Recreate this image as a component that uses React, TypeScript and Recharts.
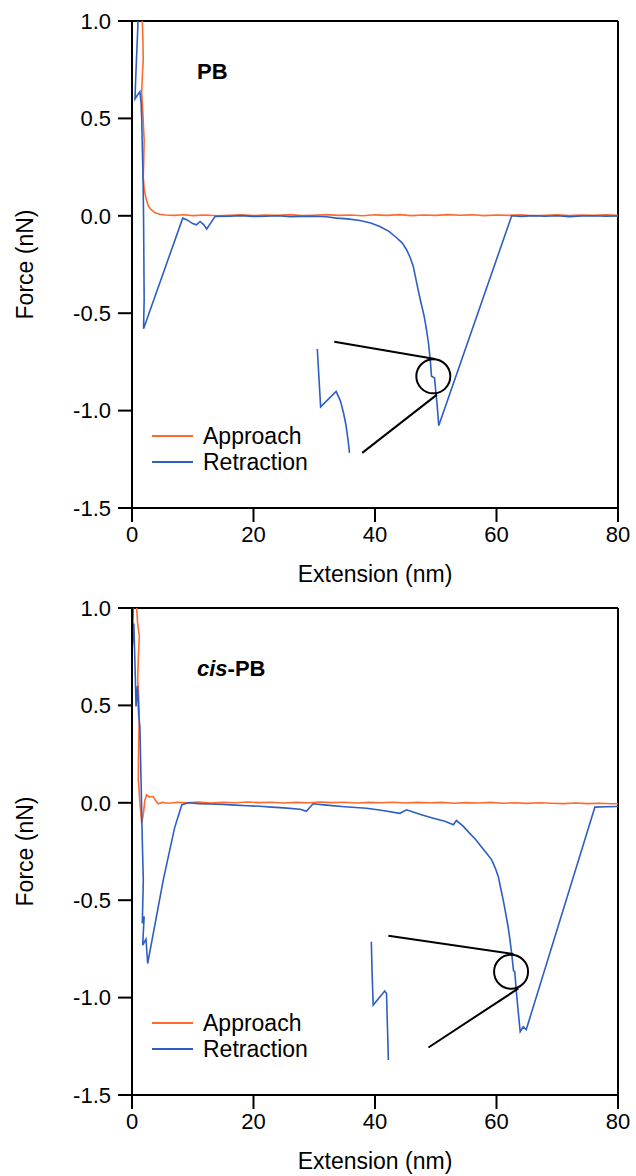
import React from "react";
import { LineChart, Line, XAxis, YAxis, ReferenceLine, ReferenceDot } from "recharts";

const FONT = '"Liberation Sans", Arial, sans-serif';
const ORANGE = "#FF6A2E";
const BLUE = "#2D5EC4";

const xTicks = [0, 20, 40, 60, 80];
const yTicks = [-1.5, -1.0, -0.5, 0.0, 0.5, 1.0];
const legendItems = [
  { name: "Approach", color: ORANGE },
  { name: "Retraction", color: BLUE },
];

// PB panel (x in nm, y in nN)
const pbApproach: [number, number][] = [
  [1.7, 1.0], [1.8, 0.9], [1.85, 0.8], [1.7, 0.72], [1.6, 0.63], [1.75, 0.55], [1.9, 0.45],
  [2.0, 0.39], [1.95, 0.3], [1.85, 0.2], [2.0, 0.14], [2.3, 0.09], [2.7, 0.05], [3.2, 0.03],
  [3.8, 0.015], [4.6, 0.008], [5.5, 0.004], [7, 0.002], [8.5, 0.005], [10, 0.001], [12, 0.004],
  [14, 0.0], [16, 0.003], [18, 0.005], [20, 0.001], [22, 0.004], [24, 0.002], [26, 0.006],
  [28, 0.001], [30, 0.003], [32, 0.006], [34, 0.002], [36, 0.004], [38, 0.0], [40, 0.005],
  [42, 0.002], [44, 0.006], [46, 0.001], [48, 0.004], [50, 0.002], [52, 0.006], [54, 0.003],
  [56, 0.005], [58, 0.001], [60, 0.004], [62, 0.002], [64, 0.005], [66, 0.0], [68, 0.003],
  [70, 0.005], [72, 0.001], [74, 0.004], [76, 0.002], [78, 0.005], [80, 0.002],
];

const pbRetraction: [number, number][] = [
  [1.0, 1.0], [0.8, 0.85], [0.6, 0.7], [0.5, 0.6], [0.9, 0.62], [1.3, 0.637], [1.5, 0.58],
  [1.6, 0.5], [1.7, 0.35], [1.8, 0.22], [1.85, 0.12], [1.9, 0.0], [1.95, -0.2], [2.0, -0.43],
  [1.9, -0.58], [8.35, -0.012], [9.0, -0.02], [10.0, -0.04], [10.6, -0.046], [11.2, -0.029],
  [11.8, -0.045], [12.3, -0.068], [13.0, -0.035], [13.7, -0.003], [16, -0.002], [18, 0.001],
  [20, -0.003], [22, -0.002], [24, 0.0], [26, -0.004], [28, -0.003], [30, -0.002], [32, -0.005],
  [33.7, -0.012], [35.5, -0.016], [37.5, -0.024], [39.3, -0.037], [40.8, -0.055], [42.3, -0.08],
  [43.6, -0.114], [44.5, -0.14], [45.2, -0.174], [45.8, -0.215], [46.3, -0.26], [46.7, -0.32],
  [47.1, -0.38], [47.6, -0.45], [48.1, -0.516], [48.5, -0.59], [48.8, -0.653], [49.1, -0.74],
  [49.3, -0.824], [49.8, -0.833], [50.0, -0.9], [50.2, -0.96], [50.5, -1.077], [62.5, 0.0],
  [64, -0.003], [66, 0.001], [68, -0.002], [70, 0.0], [72, -0.004], [74, -0.001], [76, 0.0],
  [78, -0.002], [80, -0.001],
];

const pbInset: [number, number][] = [
  [30.5, -0.684], [31.05, -0.981], [33.6, -0.901], [34.3, -0.95], [34.8, -1.01], [35.2, -1.07],
  [35.4, -1.114], [35.6, -1.16], [35.8, -1.217],
];
const pbPointerA: [number, number][] = [[33.3, -0.646], [49.9, -0.735]];
const pbPointerB: [number, number][] = [[37.9, -1.217], [50.2, -0.918]];
const pbCircle: [number, number] = [49.6, -0.824];

// cis-PB panel
const cisApproach: [number, number][] = [
  [0.77, 1.0], [0.9, 0.93], [1.2, 0.855], [1.05, 0.75], [0.93, 0.632], [1.1, 0.55], [1.2, 0.46],
  [1.1, 0.3], [1.04, 0.118], [1.3, 0.0], [1.6, -0.104], [1.9, -0.05], [2.1, 0.01], [2.4, 0.041],
  [2.9, 0.03], [3.5, 0.032], [3.9, 0.01], [4.3, -0.005], [5, 0.002], [6, -0.002], [7.5, 0.003],
  [9, 0.0], [11, 0.004], [13, -0.001], [15, 0.003], [17, 0.0], [19, 0.004], [21, 0.001],
  [23, 0.003], [25, -0.001], [27, 0.002], [29, 0.0], [31, 0.004], [33, 0.001], [35, 0.003],
  [37, -0.001], [39, 0.002], [41, 0.0], [43, 0.003], [45, -0.001], [47, 0.002], [49, 0.0],
  [51, 0.002], [53, -0.002], [55, 0.001], [57, -0.001], [59, 0.002], [61, -0.002], [63, 0.0],
  [65, -0.003], [67, 0.0], [69, -0.002], [71, -0.004], [73, -0.001], [75, -0.004], [77, -0.002],
  [79, -0.005], [80, -0.004],
];

const cisRetraction: [number, number][] = [
  [0.2, 1.0], [0.05, 0.8], [0.3, 0.92], [0.5, 0.7], [0.66, 0.495], [0.9, 0.6], [1.1, 0.45],
  [1.3, 0.39], [1.5, 0.1], [1.7, -0.2], [1.86, -0.396], [1.7, -0.618], [2.0, -0.584],
  [1.76, -0.73], [2.3, -0.7], [2.58, -0.825], [5.15, -0.396], [7.0, -0.13], [8.2, -0.01],
  [9.3, 0.0], [11, -0.004], [13, -0.006], [15, -0.008], [17, -0.012], [19, -0.015],
  [21, -0.018], [23, -0.022], [25, -0.026], [27.7, -0.033], [28.7, -0.044], [29.8, -0.005],
  [32, -0.012], [35, -0.02], [38.6, -0.028], [41, -0.038], [44.1, -0.054], [45.2, -0.036],
  [47.5, -0.06], [49.6, -0.079], [51.5, -0.095], [52.9, -0.113], [53.4, -0.091], [54.5, -0.12],
  [55.6, -0.157], [56.6, -0.19], [57.5, -0.225], [58.4, -0.26], [59.2, -0.293], [59.8, -0.335],
  [60.3, -0.379], [60.7, -0.44], [61.1, -0.498], [61.5, -0.565], [61.9, -0.635], [62.2, -0.7],
  [62.5, -0.773], [62.8, -0.862], [63.0, -0.867], [63.3, -0.979], [63.6, -1.08], [63.9, -1.175],
  [64.4, -1.15], [64.9, -1.164], [76.2, -0.022], [78, -0.02], [80, -0.019],
];

const cisInset: [number, number][] = [
  [39.4, -0.713], [39.5, -0.85], [39.7, -1.038], [41.6, -0.966], [41.9, -0.979], [42.0, -1.1],
  [42.1, -1.2], [42.2, -1.32],
];
const cisPointerA: [number, number][] = [[42.2, -0.682], [62.8, -0.776]];
const cisPointerB: [number, number][] = [[48.8, -1.256], [63.6, -0.953]];
const cisCircle: [number, number] = [62.4, -0.867];

const toPts = (arr: [number, number][]) => arr.map(([x, y]) => ({ x, y }));

function LegendBox() {
  return (
    <div style={{ position: "absolute", left: 152, top: 423, fontFamily: FONT, fontSize: 23, color: "#000" }}>
      {legendItems.map((it) => (
        <div key={it.name} style={{ display: "flex", alignItems: "center", height: 26 }}>
          <svg width={41} height={4} style={{ display: "block" }}>
            <line x1={0} x2={41} y1={2} y2={2} stroke={it.color} strokeWidth={2} />
          </svg>
          <span style={{ marginLeft: 10, lineHeight: "26px" }}>{it.name}</span>
        </div>
      ))}
    </div>
  );
}

interface PanelProps {
  approach: [number, number][];
  retraction: [number, number][];
  inset: [number, number][];
  pointerA: [number, number][];
  pointerB: [number, number][];
  circle: [number, number];
  title: React.ReactNode;
  titleTop: number;
  top: number;
}

function Panel({ approach, retraction, inset, pointerA, pointerB, circle, title, titleTop, top }: PanelProps) {
  const axisStyle = { stroke: "#000", strokeWidth: 2 };
  return (
    <div style={{ position: "absolute", left: 0, top, width: 636, height: 588 }}>
      <LineChart width={636} height={588} margin={{ top: 21, right: 18, bottom: 30, left: 72 }}>
        <XAxis
          type="number"
          dataKey="x"
          domain={[0, 80]}
          ticks={xTicks}
          allowDataOverflow
          height={50}
          axisLine={axisStyle}
          tickLine={axisStyle}
          tickSize={14}
          tickMargin={4}
          tick={{ fill: "#000", fontSize: 22, fontFamily: FONT }}
          label={{ value: "Extension (nm)", position: "bottom", offset: 8, fill: "#000", fontSize: 23, fontFamily: FONT }}
        />
        <YAxis
          type="number"
          domain={[-1.5, 1]}
          ticks={yTicks}
          allowDataOverflow
          width={60}
          axisLine={axisStyle}
          tickLine={axisStyle}
          tickSize={14}
          tickMargin={7}
          tickFormatter={(v: number) => v.toFixed(1)}
          tick={{ fill: "#000", fontSize: 22, fontFamily: FONT }}
          label={{
            value: "Force (nN)",
            angle: -90,
            position: "left",
            offset: 47,
            fill: "#000",
            fontSize: 23,
            fontFamily: FONT,
            style: { textAnchor: "middle" },
          }}
        />
        <ReferenceLine y={1} stroke="#000" strokeWidth={2} />
        <ReferenceLine x={80} stroke="#000" strokeWidth={2} />
        <Line data={toPts(approach)} dataKey="y" name="Approach" stroke={ORANGE} strokeWidth={1.6} dot={false} isAnimationActive={false} />
        <Line data={toPts(retraction)} dataKey="y" name="Retraction" stroke={BLUE} strokeWidth={1.6} dot={false} isAnimationActive={false} />
        <Line data={toPts(inset)} dataKey="y" name="inset" stroke={BLUE} strokeWidth={1.6} dot={false} isAnimationActive={false} />
        <Line data={toPts(pointerA)} dataKey="y" name="pointerA" stroke="#000" strokeWidth={2} dot={false} isAnimationActive={false} />
        <Line data={toPts(pointerB)} dataKey="y" name="pointerB" stroke="#000" strokeWidth={2} dot={false} isAnimationActive={false} />
        <ReferenceDot x={circle[0]} y={circle[1]} r={17} fill="none" stroke="#000" strokeWidth={2} />
      </LineChart>
      <LegendBox />
      <div
        style={{
          position: "absolute",
          left: 197,
          top: titleTop,
          fontFamily: FONT,
          fontSize: 22,
          fontWeight: "bold",
          lineHeight: "22px",
          color: "#000",
        }}
      >
        {title}
      </div>
    </div>
  );
}

export default function App() {
  return (
    <div style={{ position: "absolute", left: 0, top: 0, width: 636, height: 1176, background: "#fff" }}>
      <Panel
        approach={pbApproach}
        retraction={pbRetraction}
        inset={pbInset}
        pointerA={pbPointerA}
        pointerB={pbPointerB}
        circle={pbCircle}
        title="PB"
        titleTop={61}
        top={0}
      />
      <Panel
        approach={cisApproach}
        retraction={cisRetraction}
        inset={cisInset}
        pointerA={cisPointerA}
        pointerB={cisPointerB}
        circle={cisCircle}
        title={
          <span>
            <i>cis</i>-PB
          </span>
        }
        titleTop={71}
        top={587}
      />
    </div>
  );
}
